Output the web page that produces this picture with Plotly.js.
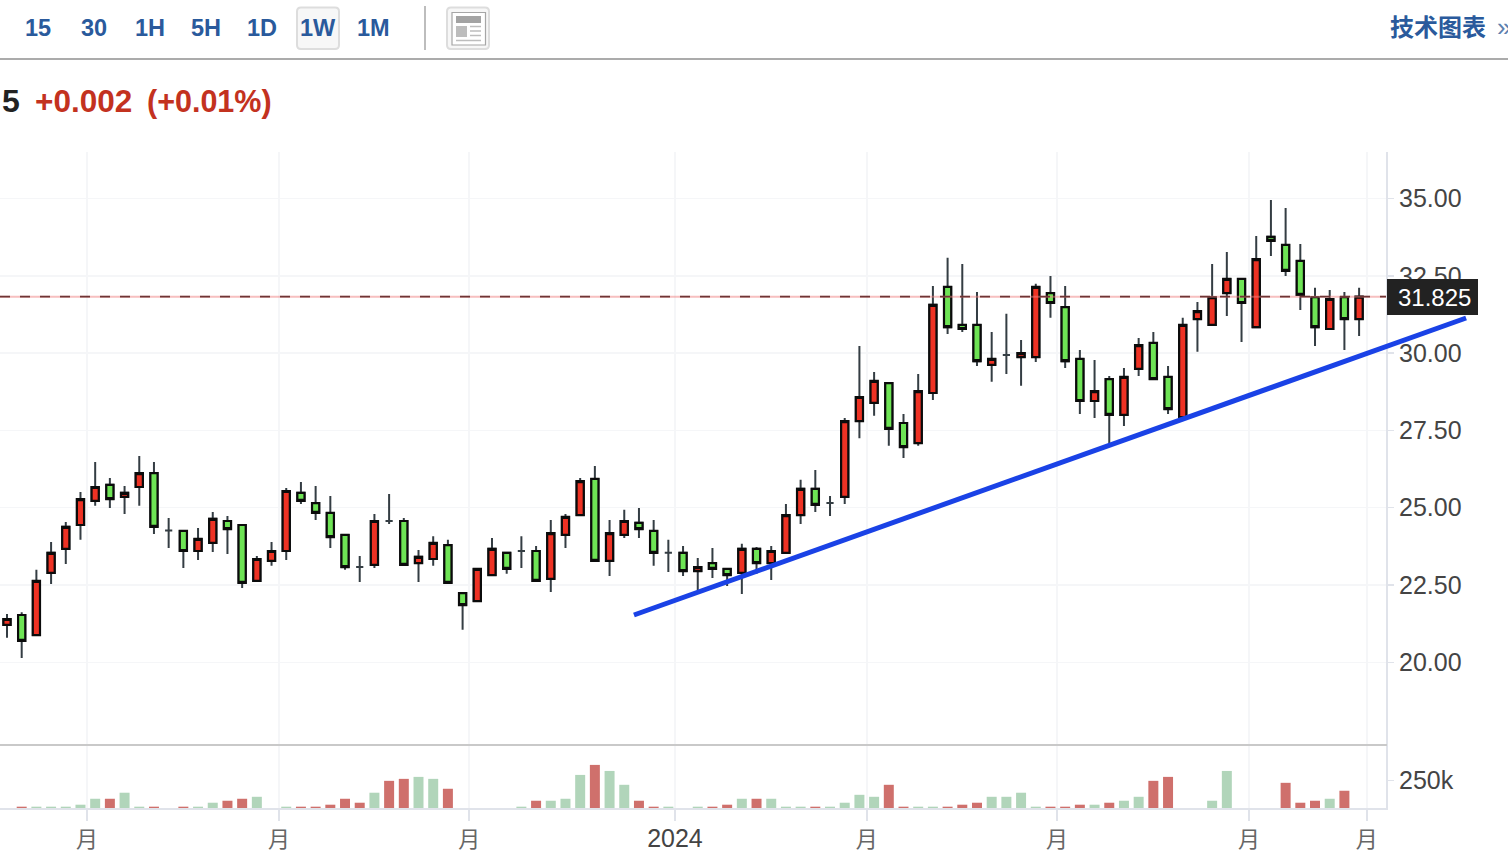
<!DOCTYPE html>
<html>
<head>
<meta charset="utf-8">
<script src="https://cdn.plot.ly/plotly-3.0.1.min.js"></script>
<style>html,body{margin:0;padding:0;background:#fff;overflow:hidden}#chart{width:1508px;height:858px}</style>
</head>
<body>
<div id="chart"></div>
<script>
const opens = [21.21,21.53,20.88,22.89,23.67,24.44,25.22,25.74,25.35,25.67,26.12,24.26,24.25,23.60,23.86,24.57,24.44,22.63,23.28,23.60,25.48,25.15,24.83,24.12,23.08,23.15,24.57,24.57,23.21,23.34,23.79,22.24,21.98,22.82,23.54,23.60,23.60,22.70,24.12,24.76,25.93,23.28,24.12,24.51,24.25,23.54,23.54,22.95,23.21,23.02,22.89,23.67,23.21,23.54,24.76,25.61,25.15,25.35,27.80,28.39,29.03,27.74,27.09,28.71,32.14,30.91,30.91,29.62,29.94,29.87,29.87,31.94,31.49,29.81,28.45,29.16,28.00,29.49,30.33,29.23,27.93,31.10,30.91,31.94,32.40,30.84,33.76,33.50,32.98,31.81,30.78,31.81,31.10];
const highs = [21.56,21.62,22.99,23.89,24.54,25.51,26.48,25.96,25.70,26.67,26.48,24.67,24.26,24.34,24.86,24.73,24.44,23.44,23.89,25.64,25.83,25.70,25.38,24.12,23.44,24.80,25.44,24.67,23.63,24.08,23.96,22.24,23.02,24.02,23.54,24.08,23.76,24.60,24.80,25.96,26.35,24.60,24.93,24.99,24.60,23.96,23.76,23.37,23.70,23.02,23.83,23.73,23.76,25.12,25.90,26.22,25.38,27.90,30.23,29.39,29.03,28.03,29.32,32.17,33.08,32.88,31.98,30.68,31.27,30.42,32.24,32.49,32.17,30.10,29.78,29.26,29.52,30.49,30.68,29.58,31.14,31.65,32.88,33.27,32.40,33.79,34.95,34.69,33.53,32.11,32.04,31.98,32.11];
const lows = [20.79,20.14,20.87,22.53,23.18,23.96,25.06,24.99,24.80,25.06,24.15,23.70,23.05,23.31,23.57,23.50,22.40,22.62,23.12,23.31,25.12,24.60,23.70,22.99,22.60,23.05,24.47,23.14,22.60,23.12,22.56,21.05,21.98,22.82,22.86,23.05,22.63,22.27,23.70,24.76,23.28,22.79,24.02,24.02,23.12,22.92,22.79,22.34,22.73,22.47,22.21,22.86,22.66,23.54,24.47,24.86,24.73,25.12,27.25,27.97,27.00,26.61,27.00,28.48,30.62,30.68,29.58,29.07,29.32,28.94,29.71,31.14,29.52,28.03,27.90,27.06,27.64,29.26,29.16,28.03,27.93,30.04,30.91,31.20,30.36,30.84,33.14,32.49,31.39,30.23,30.78,30.10,30.55];
const closes = [21.40,20.69,22.63,23.54,24.38,25.28,25.67,25.28,25.48,26.12,24.38,24.26,23.60,23.99,24.64,24.31,22.57,23.34,23.60,25.54,25.22,24.83,24.05,23.08,23.08,24.57,24.57,23.15,23.41,23.86,22.57,21.85,23.02,23.67,23.02,23.60,22.63,24.18,24.70,25.86,23.28,24.18,24.57,24.31,23.54,23.54,22.95,23.08,23.02,22.82,23.67,23.21,23.60,24.76,25.61,25.09,25.15,27.80,28.58,29.10,27.55,26.96,28.77,31.56,30.84,30.78,29.74,29.81,29.94,30.00,32.14,31.62,29.74,28.45,28.77,28.00,29.23,30.26,29.16,28.19,30.91,31.36,31.81,32.40,31.62,33.04,33.63,32.66,31.88,30.84,31.75,31.10,31.825];
const volumes = [0,12,12,12,12,30,84,84,139,12,12,0,12,12,48,66,84,102,0,12,12,12,30,84,48,139,247,265,283,265,175,0,0,0,0,12,66,66,84,301,392,337,211,66,12,12,0,12,12,30,84,84,84,12,12,12,12,48,120,102,211,12,12,12,12,30,48,102,102,139,12,12,12,30,30,48,66,102,247,283,0,0,66,337,0,0,0,229,48,66,84,157,0];
const volumeSides = ["-","rgggg","grggr","-rggr","rg-gr","rrrrg","rrggr","----g","rgggr","ggrrg","-grrg","rgggr","ggggr","rggrr","rgggg","rrrgr","ggrr-","-gg--","-rrrg","r-"].join("");
const tickPositions = [5.44,18.5,31.45,45.45,58.5,71.45,84.5,92.52];
const tickLabels = ["月","月","月","2024","月","月","月","月"];
const priceTicks = [20,22.5,25,27.5,30,32.5,35];
const volumeTickValues = [250];
const volumeTickLabels = ["250k"];
const lastPrice = 31.825;
const trendX = [42.66,99.28];
const trendY = [21.53,31.135];
const intervals = ["15","30","1H","5H","1D","1W","1M"];

const weeks = opens.map((_,i)=>i);
const PW=1386, PT=152, PB=808, PH=PB-PT;
const xRange=[-0.476,93.83];
const px=x=>x/PW, py=y=>(PB-y)/PH;
const weekToPaper=w=>(w-xRange[0])/(xRange[1]-xRange[0]);
const RED='#EE3224', GREEN='#6EE455', BLUE='#2A5A9C';
const isDoji=i=>opens[i]===closes[i];

const wickTrace={type:'candlestick',x:weeks,open:opens,high:highs,low:lows,close:closes,width:0.62,whiskerwidth:0,
  increasing:{line:{color:'#343d43',width:2},fillcolor:RED},decreasing:{line:{color:'#343d43',width:2},fillcolor:GREEN},
  hoverinfo:'skip',showlegend:false,xaxis:'x',yaxis:'y'};
const bodyTrace={type:'candlestick',x:weeks,
  open:opens.map((v,i)=>isDoji(i)?null:v),close:closes.map((v,i)=>isDoji(i)?null:v),
  high:opens.map((v,i)=>isDoji(i)?null:Math.max(v,closes[i])),low:opens.map((v,i)=>isDoji(i)?null:Math.min(v,closes[i])),
  width:0.62,whiskerwidth:0,
  increasing:{line:{color:'#0b0b0b',width:2.2},fillcolor:RED},decreasing:{line:{color:'#0b0b0b',width:2.2},fillcolor:GREEN},
  hoverinfo:'skip',showlegend:false,xaxis:'x',yaxis:'y'};
const volumeTrace={type:'bar',x:weeks,y:volumes,width:0.68,xaxis:'x',yaxis:'y2',hoverinfo:'skip',showlegend:false,
  marker:{color:volumes.map((_,i)=>volumeSides[i]==='r'?'#CF706C':'#B1D5BA'),line:{width:0}}};

function roundRect(x0,y0,x1,y1,r){
  const X=px,Y=py;
  return `M${X(x0+r)},${Y(y0)} L${X(x1-r)},${Y(y0)} Q${X(x1)},${Y(y0)} ${X(x1)},${Y(y0+r)} L${X(x1)},${Y(y1-r)} Q${X(x1)},${Y(y1)} ${X(x1-r)},${Y(y1)} L${X(x0+r)},${Y(y1)} Q${X(x0)},${Y(y1)} ${X(x0)},${Y(y1-r)} L${X(x0)},${Y(y0+r)} Q${X(x0)},${Y(y0)} ${X(x0+r)},${Y(y0)} Z`;
}
const P={xref:'paper',yref:'paper'};
const hline=(x0,x1,y,color,w)=>({type:'line',...P,x0:px(x0),x1:px(x1),y0:py(y),y1:py(y),line:{color,width:w}});
const vline=(x,y0,y1,color,w)=>({type:'line',...P,x0:px(x),x1:px(x),y0:py(y0),y1:py(y1),line:{color,width:w}});
const frect=(x0,y0,x1,y1,color)=>({type:'rect',...P,x0:px(x0),x1:px(x1),y0:py(y0),y1:py(y1),fillcolor:color,line:{width:0}});

const shapes=[
  {type:'line',xref:'x',yref:'y',x0:xRange[0],x1:xRange[1],y0:lastPrice,y1:lastPrice,line:{color:'rgba(240,130,130,0.5)',width:2},layer:'above'},
  {type:'line',xref:'x',yref:'y',x0:xRange[0],x1:xRange[1],y0:lastPrice,y1:lastPrice,line:{color:'#6E3535',width:1.6,dash:'10px,10px'},layer:'above'},
  {type:'line',xref:'paper',yref:'y',x0:weekToPaper(trendX[0]),x1:weekToPaper(trendX[1]),y0:trendY[0],y1:trendY[1],line:{color:'#1A42E6',width:5},layer:'above'},
  frect(1387,279,1478,315,'#222222'),
  hline(0,1387,745,'#C9C9C9',2),
  hline(0,1508,59,'#ABABAB',2),
  {type:'path',...P,path:roundRect(297,7.5,339,49,4),fillcolor:'#F7F7F7',line:{color:'#DDDDDD',width:2}},
  vline(425,6,50,'#BDBDBD',2),
  {type:'path',...P,path:roundRect(447,7.5,489,49,4),fillcolor:'#F7F7F7',line:{color:'#DDDDDD',width:2}},
  {type:'rect',...P,x0:px(452),x1:px(485.5),y0:py(12.5),y1:py(45),fillcolor:'#FFFFFF',line:{color:'#A6A6A6',width:1.2}},
  frect(456,16,481,23,'#A3A3A3'),
  frect(456,26,467,37,'#BDBDBD'),
  hline(470,481,26.5,'#BDBDBD',1.5),hline(470,481,31,'#BDBDBD',1.5),hline(470,481,35.5,'#BDBDBD',1.5),hline(456,481,40.5,'#BDBDBD',1.5)
];

const annotations=[
  ...intervals.map((t,i)=>({...P,x:px(37.5+56*i),y:py(27.5),text:t,showarrow:false,xanchor:'center',yanchor:'middle',
    font:{family:'"Liberation Sans"',size:23.5,color:BLUE,weight:700}})),
  {...P,x:px(1388),y:py(26),text:'技术图表',showarrow:false,xanchor:'left',yanchor:'middle',font:{family:'"Noto Sans CJK SC"',size:24,color:BLUE,weight:700}},
  {...P,x:px(1495),y:py(27),text:'»',showarrow:false,xanchor:'left',yanchor:'middle',font:{family:'"Liberation Sans"',size:26,color:'#5C7FAF'}},
  {...P,x:px(0),y:py(101),text:'5',showarrow:false,xanchor:'left',yanchor:'middle',font:{family:'"Liberation Sans"',size:32,color:'#222222',weight:700}},
  {...P,x:px(33),y:py(101),text:'+0.002',showarrow:false,xanchor:'left',yanchor:'middle',font:{family:'"Liberation Sans"',size:31.5,color:'#C3321F',weight:700}},
  {...P,x:px(145),y:py(101),text:'(+0.01%)',showarrow:false,xanchor:'left',yanchor:'middle',font:{family:'"Liberation Sans"',size:30.5,color:'#C3321F',weight:700}},
  {xref:'paper',yref:'y',x:px(1435),y:lastPrice,yshift:-1,text:'31.825',showarrow:false,xanchor:'center',yanchor:'middle',
    font:{family:'"Liberation Sans"',size:24,color:'#FFFFFF'}}
];

const layout={
  width:1508,height:858,paper_bgcolor:'#FFFFFF',plot_bgcolor:'#FFFFFF',showlegend:false,hovermode:false,dragmode:false,
  margin:{l:0,r:1508-PW,t:PT,b:858-PB,pad:0},barmode:'overlay',
  font:{family:'"Liberation Sans","Noto Sans CJK SC"',size:25,color:'#444444'},
  xaxis:{type:'linear',range:xRange,anchor:'y2',rangeslider:{visible:false},tickmode:'array',tickvals:tickPositions,
    ticktext:tickLabels.map(t=>t==='月'?`<span style="font-size:22px;color:#666">${t}</span>`:t),
    ticklabelstandoff:-4,
    showgrid:true,gridcolor:'#F5F6F8',gridwidth:1.5,zeroline:false,showline:true,linecolor:'#E0E3EA',linewidth:2,
    ticks:'outside',ticklen:11,tickwidth:1.5,tickcolor:'#E0E3EA',tickfont:{size:25,color:'#444444'}},
  yaxis:{domain:[(PB-745)/PH,1],range:[17.325,36.504],side:'right',anchor:'x',tickmode:'array',tickvals:priceTicks,tickformat:'.2f',
    showgrid:true,gridcolor:'#F5F6F8',gridwidth:1.5,zeroline:false,showline:true,linecolor:'#E0E3EA',linewidth:2,
    ticks:'outside',ticklen:6,tickwidth:1.5,tickcolor:'#E0E3EA',tickfont:{size:25,color:'#444444'}},
  yaxis2:{domain:[0,(PB-745)/PH],range:[0,573],side:'right',anchor:'x',tickmode:'array',tickvals:volumeTickValues,ticktext:volumeTickLabels,
    showgrid:false,zeroline:false,showline:true,linecolor:'#E0E3EA',linewidth:2,
    ticks:'outside',ticklen:6,tickwidth:1.5,tickcolor:'#E0E3EA',tickfont:{size:25,color:'#444444'}},
  shapes,annotations
};
Plotly.newPlot('chart',[volumeTrace,wickTrace,bodyTrace],layout,{displayModeBar:false,staticPlot:true});
</script>
</body>
</html>
